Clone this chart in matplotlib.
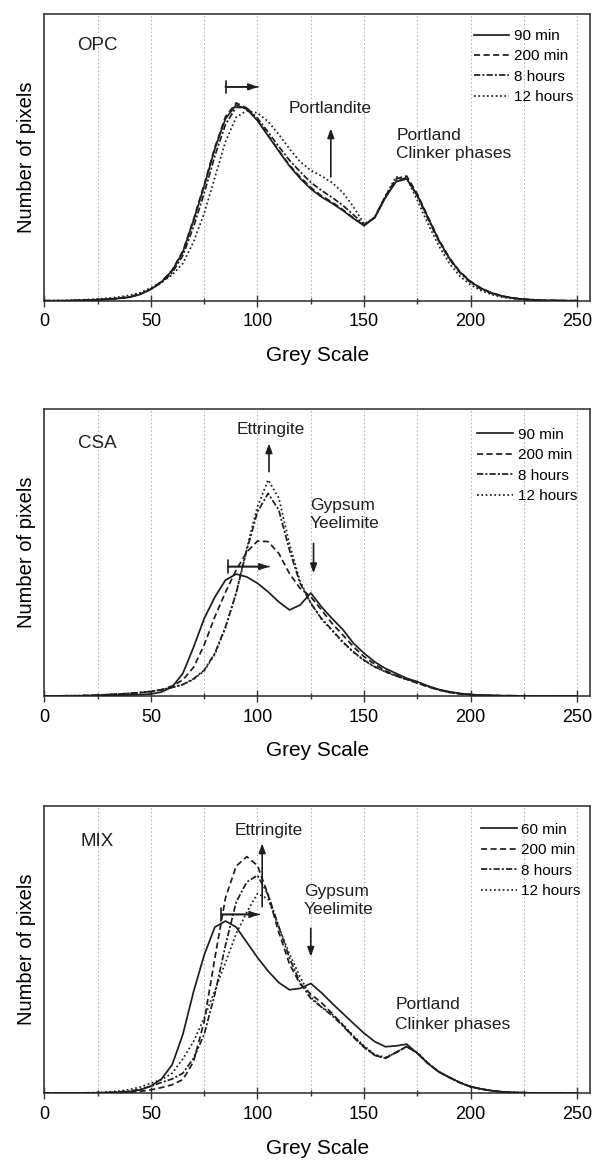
import matplotlib
matplotlib.use("Agg")
import matplotlib.pyplot as plt
from matplotlib.patches import ArrowStyle
from matplotlib.ticker import MultipleLocator

plt.rcParams['font.family'] = ['Liberation Sans', 'DejaVu Sans']

# Grey level axis (histogram bins, step 5)
grey = list(range(0, 251, 5))

# Relative pixel counts per grey level
opc_90min = [
    0, 0, 0, 0.001, 0.002, 0.003, 0.005, 0.008, 0.012, 0.022,
    0.040, 0.066, 0.105, 0.170, 0.280, 0.400, 0.530, 0.635, 0.683, 0.668,
    0.628, 0.575, 0.522, 0.470, 0.427, 0.390, 0.362, 0.340, 0.315, 0.287,
    0.262, 0.290, 0.360, 0.415, 0.425, 0.368, 0.290, 0.212, 0.148, 0.100,
    0.066, 0.043, 0.027, 0.016, 0.009, 0.005, 0.003, 0.001, 0.001, 0, 0]
opc_200min = [
    0, 0, 0, 0.001, 0.002, 0.003, 0.005, 0.008, 0.013, 0.023,
    0.041, 0.067, 0.107, 0.173, 0.283, 0.405, 0.535, 0.642, 0.690, 0.672,
    0.630, 0.577, 0.524, 0.473, 0.432, 0.395, 0.366, 0.344, 0.318, 0.289,
    0.262, 0.292, 0.365, 0.425, 0.435, 0.372, 0.292, 0.214, 0.150, 0.101,
    0.067, 0.043, 0.027, 0.016, 0.009, 0.005, 0.003, 0.001, 0.001, 0, 0]
opc_8h = [
    0, 0, 0, 0.001, 0.002, 0.004, 0.006, 0.009, 0.014, 0.024,
    0.040, 0.063, 0.098, 0.158, 0.258, 0.375, 0.505, 0.615, 0.675, 0.672,
    0.637, 0.588, 0.538, 0.490, 0.450, 0.413, 0.385, 0.360, 0.333, 0.300,
    0.265, 0.290, 0.360, 0.420, 0.428, 0.365, 0.285, 0.208, 0.145, 0.097,
    0.063, 0.040, 0.025, 0.015, 0.009, 0.005, 0.003, 0.001, 0.0005, 0, 0]
opc_12h = [
    0, 0, 0.001, 0.002, 0.004, 0.006, 0.009, 0.013, 0.019, 0.028,
    0.045, 0.065, 0.090, 0.130, 0.205, 0.305, 0.430, 0.555, 0.640, 0.663,
    0.655, 0.625, 0.580, 0.530, 0.485, 0.455, 0.435, 0.412, 0.378, 0.328,
    0.268, 0.290, 0.365, 0.432, 0.428, 0.350, 0.268, 0.192, 0.130, 0.085,
    0.055, 0.035, 0.021, 0.012, 0.007, 0.004, 0.002, 0.001, 0, 0, 0]

csa_90min = [
    0, 0, 0, 0, 0.001, 0.001, 0.002, 0.003, 0.004, 0.005,
    0.007, 0.014, 0.032, 0.079, 0.170, 0.270, 0.345, 0.404, 0.425, 0.415,
    0.393, 0.363, 0.328, 0.300, 0.317, 0.359, 0.311, 0.270, 0.232, 0.184,
    0.149, 0.119, 0.096, 0.079, 0.062, 0.050, 0.035, 0.023, 0.015, 0.009,
    0.005, 0.003, 0.002, 0.001, 0.001, 0, 0, 0, 0, 0, 0]
csa_200min = [
    0, 0, 0.001, 0.001, 0.002, 0.003, 0.005, 0.007, 0.009, 0.012,
    0.015, 0.022, 0.035, 0.056, 0.100, 0.178, 0.276, 0.362, 0.439, 0.502,
    0.540, 0.538, 0.497, 0.427, 0.375, 0.346, 0.300, 0.253, 0.213, 0.172,
    0.137, 0.111, 0.088, 0.072, 0.058, 0.045, 0.032, 0.021, 0.013, 0.008,
    0.005, 0.003, 0.002, 0.001, 0.001, 0, 0, 0, 0, 0, 0]
csa_8h = [
    0, 0, 0.001, 0.001, 0.002, 0.003, 0.005, 0.007, 0.009, 0.012,
    0.016, 0.022, 0.030, 0.040, 0.060, 0.090, 0.149, 0.241, 0.358, 0.509,
    0.642, 0.706, 0.648, 0.509, 0.393, 0.323, 0.270, 0.230, 0.189, 0.154,
    0.125, 0.102, 0.085, 0.070, 0.059, 0.047, 0.034, 0.022, 0.013, 0.008,
    0.005, 0.003, 0.002, 0.001, 0.001, 0, 0, 0, 0, 0, 0]
csa_12h = [
    0, 0, 0.001, 0.001, 0.002, 0.003, 0.005, 0.007, 0.009, 0.012,
    0.016, 0.022, 0.030, 0.040, 0.058, 0.088, 0.145, 0.238, 0.360, 0.515,
    0.660, 0.753, 0.690, 0.530, 0.400, 0.325, 0.268, 0.228, 0.187, 0.152,
    0.124, 0.101, 0.084, 0.070, 0.058, 0.046, 0.033, 0.022, 0.013, 0.008,
    0.005, 0.003, 0.002, 0.001, 0.001, 0, 0, 0, 0, 0, 0]

mix_60min = [
    0, 0, 0, 0, 0.001, 0.001, 0.002, 0.003, 0.006, 0.012,
    0.025, 0.050, 0.100, 0.205, 0.353, 0.481, 0.578, 0.599, 0.578, 0.525,
    0.472, 0.425, 0.385, 0.360, 0.365, 0.382, 0.350, 0.313, 0.278, 0.243,
    0.209, 0.180, 0.162, 0.165, 0.171, 0.139, 0.104, 0.075, 0.056, 0.037,
    0.023, 0.015, 0.009, 0.005, 0.003, 0.002, 0.001, 0, 0, 0, 0]
mix_200min = [
    0, 0, 0, 0, 0.001, 0.001, 0.002, 0.003, 0.004, 0.007,
    0.012, 0.020, 0.030, 0.048, 0.110, 0.250, 0.470, 0.680, 0.790, 0.823,
    0.792, 0.690, 0.560, 0.450, 0.380, 0.345, 0.315, 0.278, 0.238, 0.197,
    0.162, 0.133, 0.122, 0.142, 0.163, 0.140, 0.104, 0.075, 0.055, 0.037,
    0.023, 0.015, 0.009, 0.005, 0.003, 0.002, 0.001, 0, 0, 0, 0]
mix_8h = [
    0, 0, 0, 0, 0.001, 0.002, 0.003, 0.005, 0.008, 0.014,
    0.025, 0.038, 0.050, 0.070, 0.122, 0.205, 0.345, 0.515, 0.665, 0.735,
    0.758, 0.690, 0.580, 0.470, 0.385, 0.330, 0.300, 0.270, 0.235, 0.195,
    0.160, 0.132, 0.122, 0.142, 0.162, 0.140, 0.104, 0.075, 0.055, 0.037,
    0.023, 0.015, 0.009, 0.005, 0.003, 0.002, 0.001, 0, 0, 0, 0]
mix_12h = [
    0, 0, 0, 0.001, 0.002, 0.003, 0.005, 0.008, 0.013, 0.022,
    0.035, 0.048, 0.070, 0.120, 0.180, 0.262, 0.357, 0.455, 0.555, 0.630,
    0.695, 0.675, 0.578, 0.485, 0.405, 0.335, 0.300, 0.275, 0.240, 0.200,
    0.165, 0.135, 0.125, 0.142, 0.163, 0.142, 0.105, 0.076, 0.056, 0.037,
    0.023, 0.015, 0.009, 0.005, 0.003, 0.002, 0.001, 0, 0, 0, 0]

labels_opc = ["90 min", "200 min", "8 hours", "12 hours"]
labels_csa = ["90 min", "200 min", "8 hours", "12 hours"]
labels_mix = ["60 min", "200 min", "8 hours", "12 hours"]

INK = "#1e1e1e"
LW = 1.25
styles = ["-", (0, (3.5, 2.0)), (0, (3.6, 1.2, 1.2, 1.2)), (0, (1.0, 1.5))]

fig = plt.figure(figsize=(5.94, 11.62), dpi=100)
left, width = 0.0746, 0.9187
boxes = [(0.7412, 0.2467), (0.4010, 0.2470), (0.0591, 0.2475)]


def bar_arrow(ax, x0, x1, y):
    ax.annotate("", xy=(x1, y), xytext=(x0, y),
                arrowprops=dict(arrowstyle=ArrowStyle("|-|", widthA=0.45, widthB=0.0),
                                color=INK, lw=1.2, shrinkA=0, shrinkB=0))
    ax.annotate("", xy=(x1, y), xytext=(x0, y),
                arrowprops=dict(arrowstyle="-|>,head_length=0.55,head_width=0.2",
                                color=INK, lw=1.2, shrinkA=0, shrinkB=0))


def v_arrow(ax, x, y0, y1):
    ax.annotate("", xy=(x, y1), xytext=(x, y0),
                arrowprops=dict(arrowstyle="-|>,head_length=0.55,head_width=0.2",
                                color=INK, lw=1.2, shrinkA=0, shrinkB=0))


def setup(ax, series, labels, name, legend_xy):
    for ys, lab, ls in zip(series, labels, styles):
        ax.plot(grey, ys, color=INK, lw=LW, linestyle=ls, label=lab, zorder=3)
    ax.set_xlim(0, 256)
    ax.set_ylim(0, 1)
    ax.xaxis.set_major_locator(MultipleLocator(50))
    ax.xaxis.set_minor_locator(MultipleLocator(25))
    ax.set_yticks([])
    ax.grid(True, axis="x", which="both", color="#b8b8b8", lw=0.8,
            linestyle=(0, (1.5, 2.0)), zorder=0)
    ax.tick_params(axis="x", which="major", direction="inout", length=8,
                   width=1.0, labelsize=13, pad=5, color="#333333")
    ax.tick_params(axis="x", which="minor", direction="inout", length=4,
                   width=1.0, color="#333333")
    for sp in ax.spines.values():
        sp.set_color("#3a3a3a")
        sp.set_linewidth(1.2)
    ax.set_xlabel("Grey Scale", fontsize=15)
    ax.xaxis.set_label_coords(0.5, -0.158)
    ax.set_ylabel("Number of pixels", fontsize=14.5, va="center")
    ax.yaxis.set_label_coords(-0.033, 0.5)
    ax.text(25, name[1], name[0], fontsize=13.5, ha="center", va="center",
            color=INK)
    ax.legend(loc="upper left", bbox_to_anchor=legend_xy, frameon=False,
              fontsize=11, borderpad=0, borderaxespad=0, handlelength=2.35,
              handletextpad=0.3, labelspacing=0.42)


ax1 = fig.add_axes([left, boxes[0][0], width, boxes[0][1]])
setup(ax1, [opc_90min, opc_200min, opc_8h, opc_12h], labels_opc,
      ("OPC", 0.892), (0.7865, 0.948))
bar_arrow(ax1, 85, 100.2, 0.746)
ax1.text(134, 0.671, "Portlandite", fontsize=12.5, ha="center", va="center", color=INK)
v_arrow(ax1, 134.4, 0.432, 0.601)
ax1.text(165.2, 0.5455, "Portland\nClinker phases", fontsize=12.5, ha="left",
         va="center", linespacing=1.3, color=INK)

ax2 = fig.add_axes([left, boxes[1][0], width, boxes[1][1]])
setup(ax2, [csa_90min, csa_200min, csa_8h, csa_12h], labels_csa,
      ("CSA", 0.880), (0.793, 0.935))
ax2.text(106, 0.929, "Ettringite", fontsize=12.5, ha="center", va="center", color=INK)
v_arrow(ax2, 105.4, 0.782, 0.88)
ax2.text(124.5, 0.6335, "Gypsum\nYeelimite", fontsize=12.5, ha="left",
         va="center", linespacing=1.25, color=INK)
v_arrow(ax2, 126.3, 0.532, 0.428)
bar_arrow(ax2, 86.1, 105.4, 0.451)

ax3 = fig.add_axes([left, boxes[2][0], width, boxes[2][1]])
setup(ax3, [mix_60min, mix_200min, mix_8h, mix_12h], labels_mix,
      ("MIX", 0.877), (0.800, 0.941))
ax3.text(105.4, 0.915, "Ettringite", fontsize=12.5, ha="center", va="center", color=INK)
v_arrow(ax3, 102.2, 0.649, 0.869)
ax3.text(121.8, 0.669, "Gypsum\nYeelimite", fontsize=12.5, ha="left",
         va="center", linespacing=1.25, color=INK)
v_arrow(ax3, 125, 0.574, 0.475)
bar_arrow(ax3, 82.9, 100.8, 0.622)
ax3.text(164.6, 0.274, "Portland\nClinker phases", fontsize=12.5, ha="left",
         va="center", linespacing=1.35, color=INK)

fig.savefig("out.png", dpi=100)
